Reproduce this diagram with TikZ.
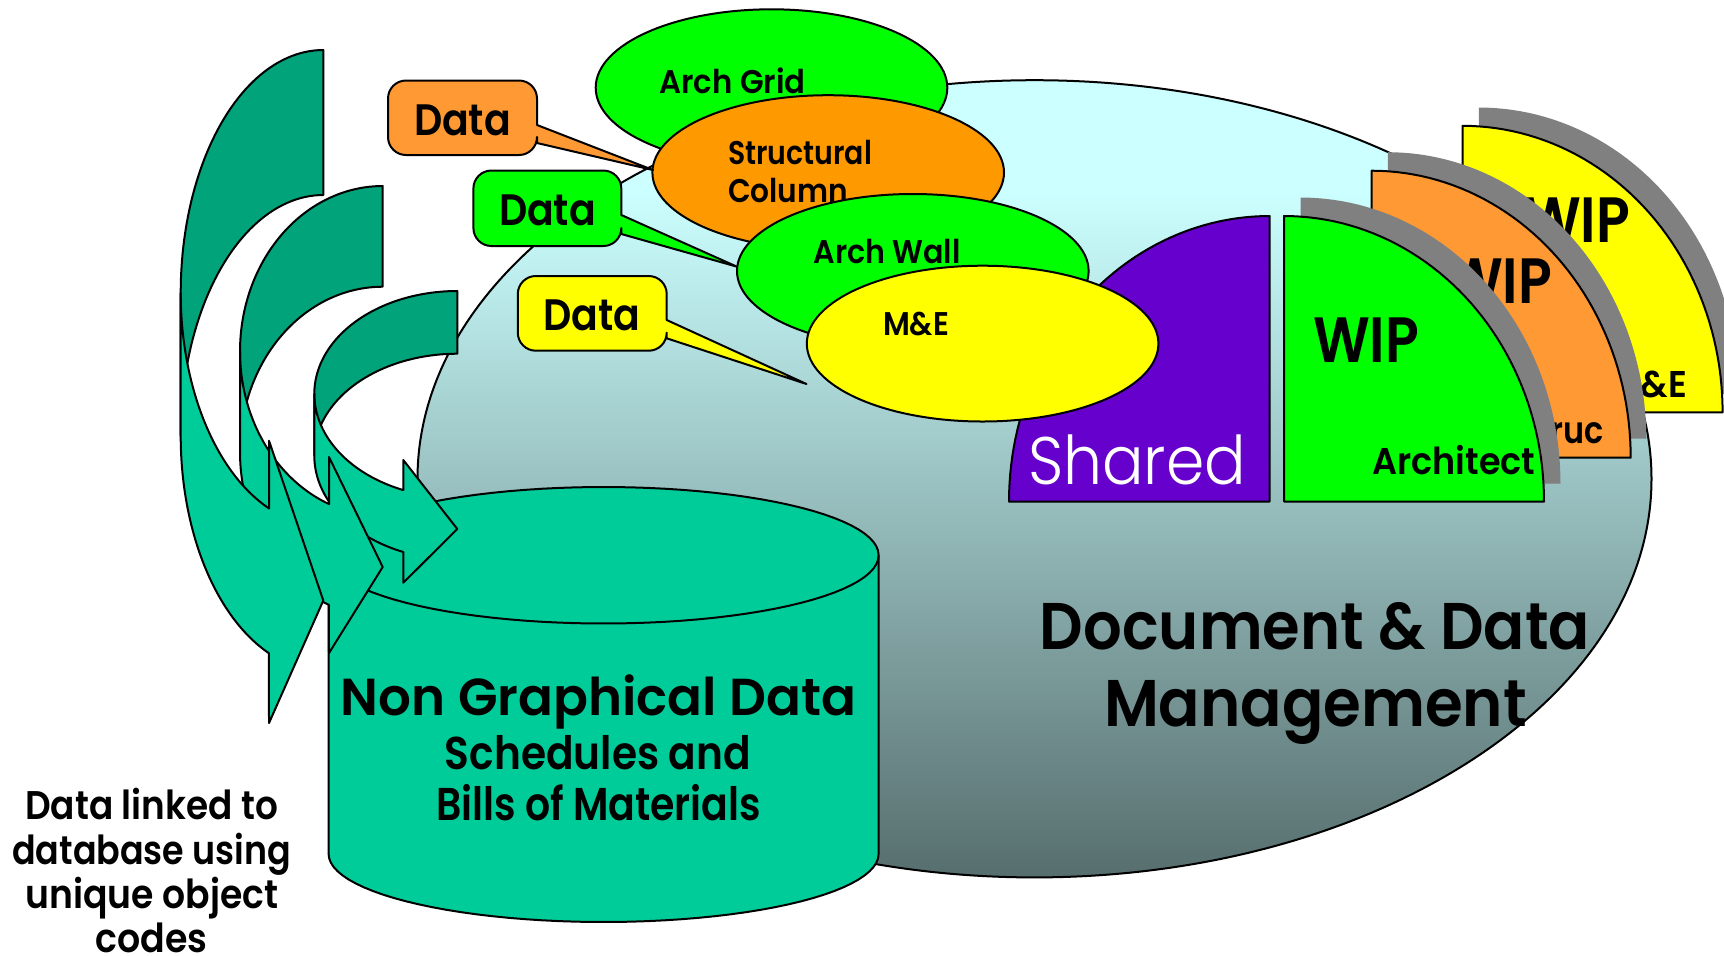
\documentclass[tikz,border=0pt]{standalone}
\usepackage{graphicx}
\usepackage{fontspec}
\setmainfont{Poppins}[BoldFont={Poppins SemiBold},UprightFont={Poppins Light}]
\usetikzlibrary{shapes.geometric}
\definecolor{cOrangeBox}{HTML}{FF9933}
\definecolor{cOrange}{HTML}{FF9900}
\definecolor{cGreen}{HTML}{00FF00}
\definecolor{cYellow}{HTML}{FFFF00}
\definecolor{cPurple}{HTML}{6600CC}
\definecolor{cTeal}{HTML}{00CC99}
\definecolor{cTealDark}{HTML}{00A37A}
\definecolor{cShadow}{HTML}{808080}
\pgfdeclareverticalshading{dmshade}{100bp}{rgb(0bp)=(0.34,0.43,0.43);
  rgb(25bp)=(0.34,0.43,0.43); rgb(68bp)=(0.80,1,1); rgb(100bp)=(0.80,1,1)}
% elliptical arc, angles measured with y pointing down
\newcommand\earc[6]{plot[domain=#5:#6,samples=50] ({#1+#3*cos(\x)},{#2+#4*sin(\x)})}
\newcommand\learc[6]{-- plot[domain=#5:#6,samples=50] ({#1+#3*cos(\x)},{#2+#4*sin(\x)})}
% text set to a given pixel width and point size
\newcommand\ft[3]{\resizebox{\dimexpr #1pt/2\relax}{\height}{\fontsize{#2}{#2}\selectfont #3}}
\tikzset{
  ln/.style={draw=black,line width=1pt,line join=round},
  lbl/.style={inner sep=0pt,anchor=base,text=black},
  wsh/.style={fill=cShadow,draw=none},
  call/.style={ln},
}
\begin{document}
\begin{tikzpicture}[x=0.5pt,y=-0.5pt]
\useasboundingbox (0,0) rectangle (1724,955);
\fill[white] (0,0) rectangle (1724,955);
\clip (0,0) rectangle (1724,955);

% management ellipse
\shadedraw[shading=dmshade,draw=black,line width=1pt] (1034.5,478.8) ellipse [x radius=617,y radius=398.6];

% WIP leaves
\fill[wsh] \earc{1478.8}{394}{260}{286.5}{-90}{0} -- (1478.8,394) -- cycle;
\draw[ln,fill=cYellow] \earc{1462.6}{412.3}{260}{286.5}{-90}{0} -- (1462.6,412.3) -- cycle;
\node[lbl] (wip3) at (1577,242.7) {\ft{106}{32}{\bfseries WIP}};
\node[lbl] (me3) at (1648,397.7) {\ft{78}{18.6}{\bfseries M\&E}};

\fill[wsh] \earc{1387.8}{438.7}{258.5}{286.5}{-90}{0} -- (1387.8,438.7) -- cycle;
\draw[ln,fill=cOrangeBox] \earc{1371.7}{457.7}{259}{287}{-90}{0} -- (1371.7,457.7) -- cycle;
\node[lbl] (wip2) at (1499,303) {\ft{106}{32}{\bfseries WIP}};
\node[lbl] (str2) at (1561,443) {\ft{85}{18.6}{\bfseries Struc}};

\fill[wsh] \earc{1300.5}{483.5}{260}{286}{-90}{0} -- (1300.5,483.5) -- cycle;
\draw[ln,fill=cGreen] \earc{1284}{501.5}{260}{285.5}{-90}{0} -- (1284,501.5) -- cycle;
\node[lbl] (wip1) at (1366,362.7) {\ft{106}{32}{\bfseries WIP}};
\node[lbl] (arc1) at (1454,474.5) {\ft{163}{18.6}{\bfseries Architect}};

\draw[ln,fill=cPurple] \earc{1269.6}{501.5}{260.6}{285.5}{-90}{-180} -- (1269.6,501.5) -- cycle;
\node[lbl,text=white] (shared) at (1137,484) {\ft{218}{33.6}{Shared}};

% discipline ellipses
\draw[ln,fill=cGreen] (771.5,87.7) ellipse [x radius=175.8,y radius=78.4];
\node[lbl] (grid) at (732.5,93.3) {\ft{146}{16.4}{\bfseries Arch Grid}};
\draw[ln,fill=cOrange] (828.2,172.5) ellipse [x radius=175.8,y radius=77.3];
\node[lbl] (col1) at (800,164.5) {\ft{144}{16.4}{\bfseries Structural}};
\node[lbl] (col2) at (788,202.5) {\ft{120}{16.4}{\bfseries Column}};
\draw[ln,fill=cGreen] (912.8,271) ellipse [x radius=175.8,y radius=77];
\node[lbl] (wall) at (887,263.5) {\ft{147}{16.4}{\bfseries Arch Wall}};
\draw[ln,fill=cYellow] (982.6,343.6) ellipse [x radius=175.8,y radius=77.9];
\node[lbl] (me) at (916,335) {\ft{66}{16.4}{\bfseries M\&E}};

% callouts
\draw[call,fill=cOrangeBox] (460,80.5) [rounded corners=9pt] -- (537,80.5) [sharp corners] -- (537,125) -- (653,170) -- (537,143) [rounded corners=9pt] -- (537,155) -- (388,155) -- (388,80.5) -- cycle;
\node[lbl] (d1) at (462.5,135.5) {\ft{97}{22}{\bfseries Data}};
\draw[call,fill=cGreen] (545,170.5) [rounded corners=9pt] -- (621.3,170.5) [sharp corners] -- (621.3,215) -- (737,266.7) -- (621.3,234) [rounded corners=9pt] -- (621.3,246) -- (473.4,246) -- (473.4,170.5) -- cycle;
\node[lbl] (d2) at (547.5,225.5) {\ft{97}{22}{\bfseries Data}};
\draw[call,fill=cYellow] (590,276) [rounded corners=9pt] -- (666.7,276) [sharp corners] -- (666.7,320) -- (806.5,384) -- (666.7,338.3) [rounded corners=9pt] -- (666.7,350.7) -- (517.8,350.7) -- (517.8,276) -- cycle;
\node[lbl] (d3) at (592,330.5) {\ft{97}{22}{\bfseries Data}};

% database cylinder
\draw[ln,fill=cTeal] \earc{603.6}{555}{275}{68}{180}{360} \learc{603.6}{854}{275}{68}{0}{180} -- cycle;
\draw[ln] \earc{603.6}{555.5}{275}{68}{0}{180};

% curved arrows, smallest first
\draw[ln,fill=cTealDark] \earc{457.3}{393.8}{143}{102.8}{-90}{-180} -- (314.3,455.7) \learc{457.3}{455.7}{143}{102}{-180}{-90} -- cycle;
\draw[ln,fill=cTeal] (314.3,393.8) \learc{457.3}{455.7}{143}{104}{180}{112.2} -- (403.3,582.7) -- (457.3,529) -- (403.3,460) -- (403.3,490) \learc{457.3}{393.8}{143}{104}{112.2}{180} -- cycle;

\draw[ln,fill=cTealDark] \earc{382.7}{351.4}{142.7}{165.4}{-90}{-180} -- (240,452) \learc{382.7}{452}{142.7}{165.3}{-180}{-90} -- cycle;
\draw[ln,fill=cTeal] (240,351.4) \learc{382.7}{452}{142.7}{165}{180}{112.2} -- (329,653) -- (382.7,567) -- (329,457) -- (329,504) \learc{382.7}{351.4}{142.7}{164.8}{112.2}{180} -- cycle;

\draw[ln,fill=cTealDark] \earc{323.3}{293}{142.6}{243}{-90}{-180} -- (180.7,436) \learc{323.3}{436}{142.6}{241}{-180}{-90} -- cycle;
\draw[ln,fill=cTeal] (180.7,293) \learc{323.3}{436}{142.6}{235}{180}{112.4} -- (269,723) -- (323.3,600.5) -- (269,440.7) -- (269,508.6) \learc{323.3}{293}{142.6}{233}{112.4}{180} -- cycle;

% labels
\node[lbl] (ngd) at (598.5,715) {\ft{515}{26}{\bfseries Non Graphical Data}};
\node[lbl] (sch) at (598,769) {\ft{306}{23}{\bfseries Schedules and}};
\node[lbl] (bil) at (598.5,820) {\ft{325}{23}{\bfseries Bills of Materials}};
\node[lbl] (doc) at (1315,649) {\ft{550}{33}{\bfseries Document \& Data}};
\node[lbl] (man) at (1315.5,726) {\ft{423}{33}{\bfseries Management}};
\node[lbl] (t1) at (151.7,819.5) {\ft{253}{20}{\bfseries Data linked to}};
\node[lbl] (t2) at (151.7,864.5) {\ft{279}{20}{\bfseries database using}};
\node[lbl] (t3) at (151.7,908.5) {\ft{253}{20}{\bfseries unique object}};
\node[lbl] (t4) at (151.7,952) {\ft{112}{20}{\bfseries codes}};
\end{tikzpicture}
\end{document}
